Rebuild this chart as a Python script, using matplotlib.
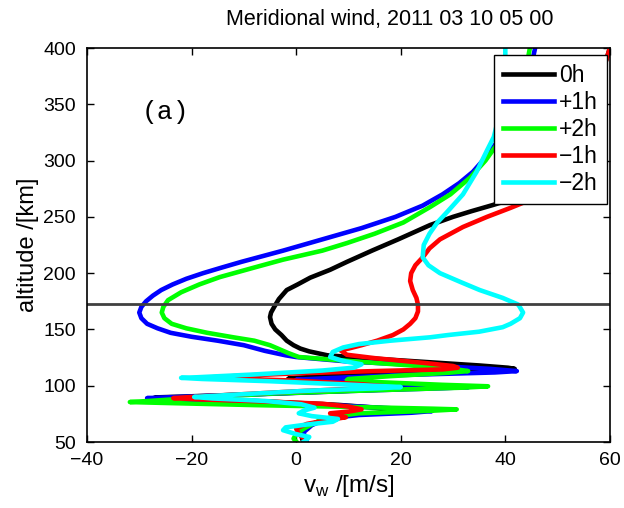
# meridional wind profiles at several hour offsets, with a horizontal marker line

import matplotlib
matplotlib.use('Agg')
import matplotlib.pyplot as plt

plt.rcParams['font.family'] = ['Liberation Sans', 'DejaVu Sans']

# 0h
v_0h = [60, 59, 57, 54.5, 51.5, 48, 45, 41.5, 37.6, 33.5, 30, 25.6, 19.5, 14.5, 9.7, 6.5, 2.7, 0.3, -1.8,
        -3.3, -4.2, -4.8, -5, -4.7, -4, -2.8, -1.8, -0.5, 0.8, 2.5, 6, 15, 25, 35, 40.5, 41.8, 39, 25, 10, 0,
        -1.5, 3, 15, 28, 30, 25, 10, -8, -22, -27, -22, -8, 8, 18, 21.8, 18, 10, 6, 3, 1.5, 1, 1.2, 1.5]
alt_0h = [400, 385, 360, 330, 305, 285, 272, 266, 260.5, 255, 250, 242.7, 230, 220, 210, 203, 196, 190, 185,
          177, 170, 165, 161, 155, 150, 145, 140, 136, 133, 130.5, 127, 124, 121, 118, 116, 115, 114, 112, 109.5, 107,
          106.3, 105, 102, 99.8, 99.2, 98, 95.5, 92.5, 90.3, 89.6, 88.8, 86.5, 83, 79.5, 78, 76.5, 74.5, 71, 66, 61, 56, 52, 50.5]

# +1h
v_p1h = [45.7, 45, 44, 42.3, 40.2, 38.2, 35.7, 33.8, 31.2, 28, 24.2, 19, 12.5, 5, -2.5, -10.5, -14.2, -17.8, -21,
         -23.6, -25.8, -27.4, -28.7, -29.6, -30, -29.6, -28.5, -26.5, -24, -20, -15, -10, -6, -2, 0, 10, 25, 37, 42.2, 38,
         20, 5, 0, 4, 18, 31, 33, 28, 10, -10, -24, -28.5, -24, -8, 8, 20, 26, 22, 12, 6, 3, 1.5, 1.5, 2, 2]
alt_p1h = [400, 385, 370, 350, 330, 315, 300, 290, 280, 270, 260, 250, 240, 230, 220, 210, 205, 200, 195,
           190, 185, 180, 175, 170, 165, 160, 155, 151, 147, 143.5, 140, 136, 131, 127, 125.5, 121.5, 118, 115, 113, 111.8,
           109.5, 106.5, 105.3, 104, 101.5, 99.3, 98.8, 97.8, 95.3, 92, 89.8, 89, 88, 85.8, 82.5, 79.5, 77.5, 76, 74, 71, 65, 59, 54, 51.5, 50.5]

# +2h
v_p2h = [44.7, 43.5, 42.2, 40.3, 38.5, 36.2, 33.3, 29.5, 25.6, 20.5, 15, 9.7, 5, -2.5, -8, -14.6, -18.5, -22,
         -24.5, -25.4, -25.7, -25.2, -23.8, -21, -17, -12, -8, -5, -3, -1.5, 0.5, 10, 22, 30, 32.9, 29, 18, 10,
         9.7, 14, 28, 36.7, 32, 15, -5, -20, -28, -31.8, -26, -8, 12, 26, 30.7, 26, 12, 7, 4, 1.5, 0, -0.5, 0]
alt_p2h = [400, 370, 350, 330, 315, 300, 285, 270, 258.7, 245, 235, 226.7, 220, 212, 205, 196.5, 190, 183,
           176, 170, 165, 160, 155, 151, 147, 143, 140, 136, 132, 129, 125.5, 122, 118, 115, 113, 111.5, 108.5, 106,
           105, 103.5, 100.8, 99.5, 98.3, 96, 93, 89, 86.5, 85.5, 84.8, 82.8, 81, 79.6, 79, 77.8, 75.5, 72.5, 68, 62, 57, 53, 50.5]

# -1h
v_m1h = [60, 59, 57, 54.5, 51.5, 48.5, 44.7, 41, 36.5, 31.9, 27.5, 25.5, 24.2, 22.8, 22, 21.8, 22.3, 23, 23.3,
         23.3, 22.8, 21.8, 20.5, 18.5, 15.5, 12.5, 10, 8.4, 9.7, 15, 25, 30, 30.9, 28, 15, 0, -10, -16, -10, 0,
         12, 17, 12, 0, -12, -20, -23.5, -19, -6, 5, 10, 12.5, 10, 6.5, 8, 9.5, 6, 2, 0, 0.5, 1.5, 1.5]
alt_m1h = [400, 385, 360, 330, 300, 280, 265, 258, 250, 241, 230, 222, 214, 207, 200, 193, 185, 178, 172,
           166, 160, 155, 150, 145, 140, 136, 133, 131.7, 127.5, 124.5, 120, 117.5, 116, 114.5, 113, 111, 109, 107.5, 106, 104.5,
           101.5, 99.5, 97.5, 95, 92, 90, 89, 88, 86, 84, 81.5, 79, 77, 75.5, 73.5, 72, 69.5, 66, 62, 57, 53, 50.5]

# -2h
v_m2h = [40, 40, 39.6, 38.8, 37.8, 36.5, 34.5, 31.9, 29, 27, 25.5, 24.4, 24.2, 25.3, 27.5, 31.5, 35.1, 39.5, 42.5,
         43.4, 42.8, 41, 39.5, 35, 29, 25.6, 18, 12, 9, 7, 6.5, 9, 12.5, 11, 5, -8, -19, -22, -18, -5, 10, 18,
         20, 16, 2, -12, -19.5, -16, -6, 1, 3.5, 1.5, 0.5, 3, 8, 7, 2, -2, -2.5, 0, 2.5, 2, 1.5]
alt_m2h = [400, 380, 360, 340, 321, 309, 290, 270, 255, 245, 235, 225, 214, 207, 200, 192, 185, 178, 172,
           165, 160, 155, 152, 148, 145, 143, 140, 137, 134, 130, 125.5, 122, 119, 116, 113.5, 110, 107.5, 107, 106, 104, 101, 99.3,
           98.8, 97.8, 95.5, 92, 90, 88.7, 86.5, 83.5, 80.5, 78, 75.5, 73, 70.5, 68, 65.5, 63, 60.5, 57, 54.5, 52, 50.5]

marker_alt = 173

fig = plt.figure(figsize=(6.24, 5.08), dpi=100)
ax = fig.add_axes([0.1394, 0.1299, 0.838, 0.7756])

lw = 3.3
ax.plot(v_0h, alt_0h, color='k', lw=lw, label='0h')
ax.plot(v_p1h, alt_p1h, color='#0000ff', lw=lw, label='+1h')
ax.plot(v_p2h, alt_p2h, color='#00ff00', lw=lw, label='+2h')
ax.plot(v_m1h, alt_m1h, color='#ff0000', lw=lw, label='\u22121h')
ax.plot(v_m2h, alt_m2h, color='#00ffff', lw=lw, label='\u22122h')
ax.axhline(marker_alt, color='#404040', lw=2)

ax.set_xlim(-40, 60)
ax.set_ylim(50, 400)
ax.set_xticks([-40, -20, 0, 20, 40, 60])
ax.set_xticklabels(['\u221240', '\u221220', '0', '20', '40', '60'])
ax.set_yticks(range(50, 401, 50))
ax.tick_params(direction='in', top=True, right=True, labelsize=14, length=5, width=1)
ax.tick_params(axis='x', pad=7)
ax.tick_params(axis='y', pad=8)
for s in ax.spines.values():
    s.set_linewidth(1.2)

ax.text(-25, 343, '(a)', family='Liberation Mono', fontsize=19, ha='center', va='center')

fig.text(0.625, 0.961, 'Meridional wind, 2011 03 10 05 00', fontsize=15.5, ha='center', va='center')
ax.set_xlabel('v$_\\mathregular{w}$ /[m/s]', fontsize=17.5, labelpad=3)
ax.set_ylabel('altitude /[km]', fontsize=17, labelpad=3)

leg = ax.legend(loc='upper right', bbox_to_anchor=(0.9943, 0.9822), borderaxespad=0,
                fontsize=16.5, fancybox=False, framealpha=1, edgecolor='k',
                handlelength=2.2, labelspacing=0.18, handletextpad=0.25, borderpad=0.38)
leg.get_frame().set_linewidth(1)

plt.savefig('out.png', dpi=100)
